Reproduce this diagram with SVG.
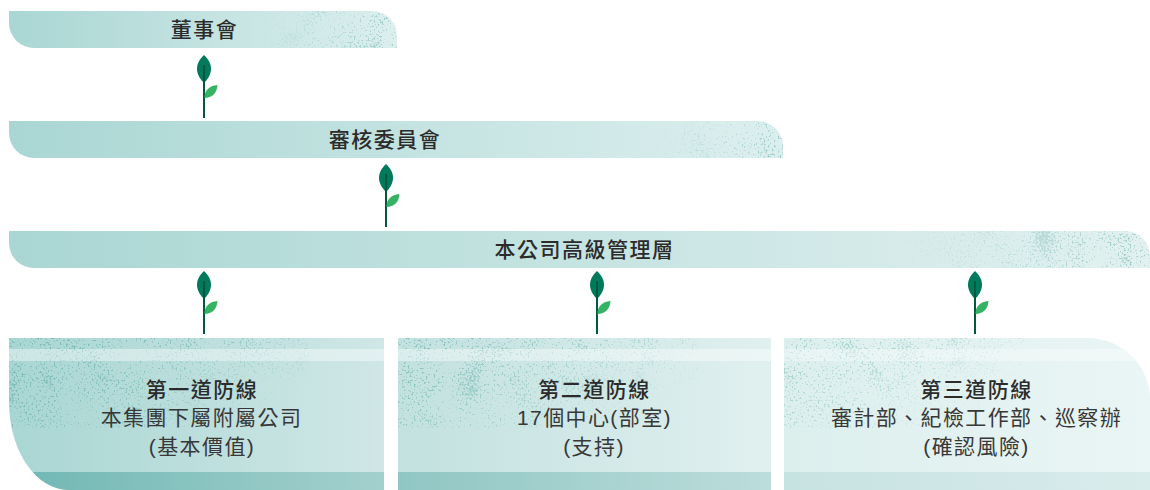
<svg xmlns="http://www.w3.org/2000/svg" width="1150" height="490" viewBox="0 0 1150 490">
<style>
text{font-family:"Liberation Sans","Noto Sans CJK TC","Noto Sans CJK SC",sans-serif;font-size:21px;letter-spacing:1.4px;fill:#2b2b2b;text-anchor:middle}
.h{font-weight:500;letter-spacing:1.5px}
.b{font-weight:400;fill:#383838}
</style>
<defs>
<linearGradient id="g1" gradientUnits="userSpaceOnUse" x1="9" x2="397" y1="0" y2="0"><stop offset="0" stop-color="#a9d6d3"/><stop offset="1" stop-color="#dcefee"/></linearGradient>
<linearGradient id="g2" gradientUnits="userSpaceOnUse" x1="9" x2="783" y1="0" y2="0"><stop offset="0" stop-color="#a9d6d3"/><stop offset="1" stop-color="#dcefee"/></linearGradient>
<linearGradient id="g3" gradientUnits="userSpaceOnUse" x1="9" x2="1150" y1="0" y2="0"><stop offset="0" stop-color="#a9d6d3"/><stop offset="1" stop-color="#e2f1f0"/></linearGradient>
<linearGradient id="b1" gradientUnits="userSpaceOnUse" x1="9" x2="384" y1="0" y2="0"><stop offset="0" stop-color="#a9d6d3"/><stop offset="1" stop-color="#cfe7e6"/></linearGradient>
<linearGradient id="b2" gradientUnits="userSpaceOnUse" x1="398" x2="771" y1="0" y2="0"><stop offset="0" stop-color="#c2e1df"/><stop offset="1" stop-color="#e0f0ef"/></linearGradient>
<linearGradient id="b3" gradientUnits="userSpaceOnUse" x1="784" x2="1150" y1="0" y2="0"><stop offset="0" stop-color="#dcefed"/><stop offset="1" stop-color="#eaf5f5"/></linearGradient>
<linearGradient id="f1" gradientUnits="userSpaceOnUse" x1="9" x2="384" y1="0" y2="0"><stop offset="0" stop-color="#6fb7b3"/><stop offset="1" stop-color="#a3d0cd"/></linearGradient>
<linearGradient id="f2" gradientUnits="userSpaceOnUse" x1="398" x2="771" y1="0" y2="0"><stop offset="0" stop-color="#8fc6c3"/><stop offset="1" stop-color="#bcdddb"/></linearGradient>
<linearGradient id="f3" gradientUnits="userSpaceOnUse" x1="784" x2="1150" y1="0" y2="0"><stop offset="0" stop-color="#c6e2e1"/><stop offset="1" stop-color="#d9ecec"/></linearGradient>
<linearGradient id="fadeL" x1="0" x2="1" y1="0" y2="0.55"><stop offset="0" stop-color="#fff"/><stop offset="0.55" stop-color="#999"/><stop offset="1" stop-color="#000"/></linearGradient>
<linearGradient id="fadeR" x1="0" x2="1" y1="0" y2="0"><stop offset="0" stop-color="#000"/><stop offset="0.45" stop-color="#777"/><stop offset="1" stop-color="#fff"/></linearGradient>
<filter id="noise" x="0" y="0" width="100%" height="100%" color-interpolation-filters="sRGB">
<feTurbulence type="fractalNoise" baseFrequency="0.5" numOctaves="3" seed="7" result="n"/>
<feTurbulence type="fractalNoise" baseFrequency="0.035" numOctaves="2" seed="3" result="m"/>
<feComposite in="n" in2="m" operator="arithmetic" k1="0" k2="1" k3="0.45" k4="-0.2" result="c"/>
<feColorMatrix in="c" type="matrix" values="0 0 0 0 0.46  0 0 0 0 0.72  0 0 0 0 0.70  7 0 0 0 -2.7"/>
</filter>
<mask id="mr1" maskUnits="userSpaceOnUse" x="0" y="0" width="1150" height="490"><rect x="260" y="11" width="137" height="37" fill="url(#fadeR)"/></mask>
<mask id="mr2" maskUnits="userSpaceOnUse" x="0" y="0" width="1150" height="490"><rect x="650" y="121" width="133" height="37" fill="url(#fadeR)"/></mask>
<mask id="mr3" maskUnits="userSpaceOnUse" x="0" y="0" width="1150" height="490"><rect x="900" y="231" width="250" height="37" fill="url(#fadeR)"/></mask>
<mask id="ml1" maskUnits="userSpaceOnUse" x="0" y="0" width="1150" height="490"><rect x="9" y="338" width="300" height="90" fill="url(#fadeL)"/></mask>
<mask id="ml2" maskUnits="userSpaceOnUse" x="0" y="0" width="1150" height="490"><rect x="398" y="338" width="300" height="90" fill="url(#fadeL)"/></mask>
<mask id="ml3" maskUnits="userSpaceOnUse" x="0" y="0" width="1150" height="490"><rect x="784" y="338" width="240" height="90" fill="url(#fadeL)"/></mask>
<clipPath id="c1"><path d="M9 11H372A25 25 0 0 1 397 36V48H34A25 25 0 0 1 9 23Z"/></clipPath>
<clipPath id="c2"><path d="M9 121H758A25 25 0 0 1 783 146V158H34A25 25 0 0 1 9 133Z"/></clipPath>
<clipPath id="c3"><path d="M9 231H1125A25 25 0 0 1 1150 256V268H34A25 25 0 0 1 9 243Z"/></clipPath>
<clipPath id="cb1"><path d="M9 338H384V490H69A60 88 0 0 1 9 402Z"/></clipPath>
<clipPath id="cb3"><path d="M784 338H1088A62 62 0 0 1 1150 400V490H784Z"/></clipPath>
<g id="sprout">
<path d="M204 55C200 59 197 63 197 69C197 75 201 80 204 83C207 80 211 75 211 69C211 63 208 59 204 55Z" fill="#007a5a"/>
<rect x="203" y="65" width="2" height="53" fill="#00583f"/>
<path d="M204.500 98C204.500 90 209 86 217.500 85C217 93 212 98 204.500 98Z" fill="#35b263"/>
</g>
</defs>

<g id="connectors">
<use href="#sprout"/>
<use href="#sprout" x="182" y="109"/>
<use href="#sprout" y="216"/>
<use href="#sprout" x="393" y="216"/>
<use href="#sprout" x="771" y="216"/>
</g>

<g id="board">
<path d="M9 11H372A25 25 0 0 1 397 36V48H34A25 25 0 0 1 9 23Z" fill="url(#g1)"/>
<g clip-path="url(#c1)"><g mask="url(#mr1)"><rect x="260" y="11" width="137" height="37" filter="url(#noise)" opacity="0.6"/></g></g>
<text class="h" x="204.500" y="37">董事會</text>
</g>

<g id="audit-committee">
<path d="M9 121H758A25 25 0 0 1 783 146V158H34A25 25 0 0 1 9 133Z" fill="url(#g2)"/>
<g clip-path="url(#c2)"><g mask="url(#mr2)"><rect x="650" y="121" width="133" height="37" filter="url(#noise)" opacity="0.6"/></g></g>
<text class="h" x="385" y="147">審核委員會</text>
</g>

<g id="senior-management">
<path d="M9 231H1125A25 25 0 0 1 1150 256V268H34A25 25 0 0 1 9 243Z" fill="url(#g3)"/>
<g clip-path="url(#c3)"><g mask="url(#mr3)"><rect x="900" y="231" width="250" height="37" filter="url(#noise)" opacity="0.6"/></g></g>
<text class="h" x="584.500" y="257">本公司高級管理層</text>
</g>

<g id="line-1">
<g clip-path="url(#cb1)">
<rect x="9" y="338" width="375" height="152" fill="url(#b1)"/>
<g mask="url(#ml1)"><rect x="9" y="338" width="300" height="90" filter="url(#noise)"/></g>
<rect x="9" y="349" width="375" height="12" fill="#fff" fill-opacity="0.4"/>
<rect x="9" y="472" width="375" height="18" fill="url(#f1)"/>
</g>
<text class="h" x="202" y="397">第一道防線</text>
<text class="b" x="201.500" y="425">本集團下屬附屬公司</text>
<text class="b" x="202" y="454">(基本價值)</text>
</g>

<g id="line-2">
<rect x="398" y="338" width="373" height="152" fill="url(#b2)"/>
<g mask="url(#ml2)"><rect x="398" y="338" width="300" height="90" filter="url(#noise)" opacity="0.8"/></g>
<rect x="398" y="349" width="373" height="12" fill="#fff" fill-opacity="0.4"/>
<rect x="398" y="472" width="373" height="18" fill="url(#f2)"/>
<text class="h" x="594.500" y="397">第二道防線</text>
<text class="b" x="594.500" y="425">17個中心(部室)</text>
<text class="b" x="594" y="454">(支持)</text>
</g>

<g id="line-3">
<g clip-path="url(#cb3)">
<rect x="784" y="338" width="366" height="152" fill="url(#b3)"/>
<g mask="url(#ml3)"><rect x="784" y="338" width="240" height="90" filter="url(#noise)" opacity="0.55"/></g>
<rect x="784" y="349" width="366" height="12" fill="#fff" fill-opacity="0.35"/>
<rect x="784" y="472" width="366" height="18" fill="url(#f3)"/>
</g>
<text class="h" x="976.500" y="397">第三道防線</text>
<text class="b" x="976.500" y="425">審計部、紀檢工作部、巡察辦</text>
<text class="b" x="976.500" y="454">(確認風險)</text>
</g>
</svg>
